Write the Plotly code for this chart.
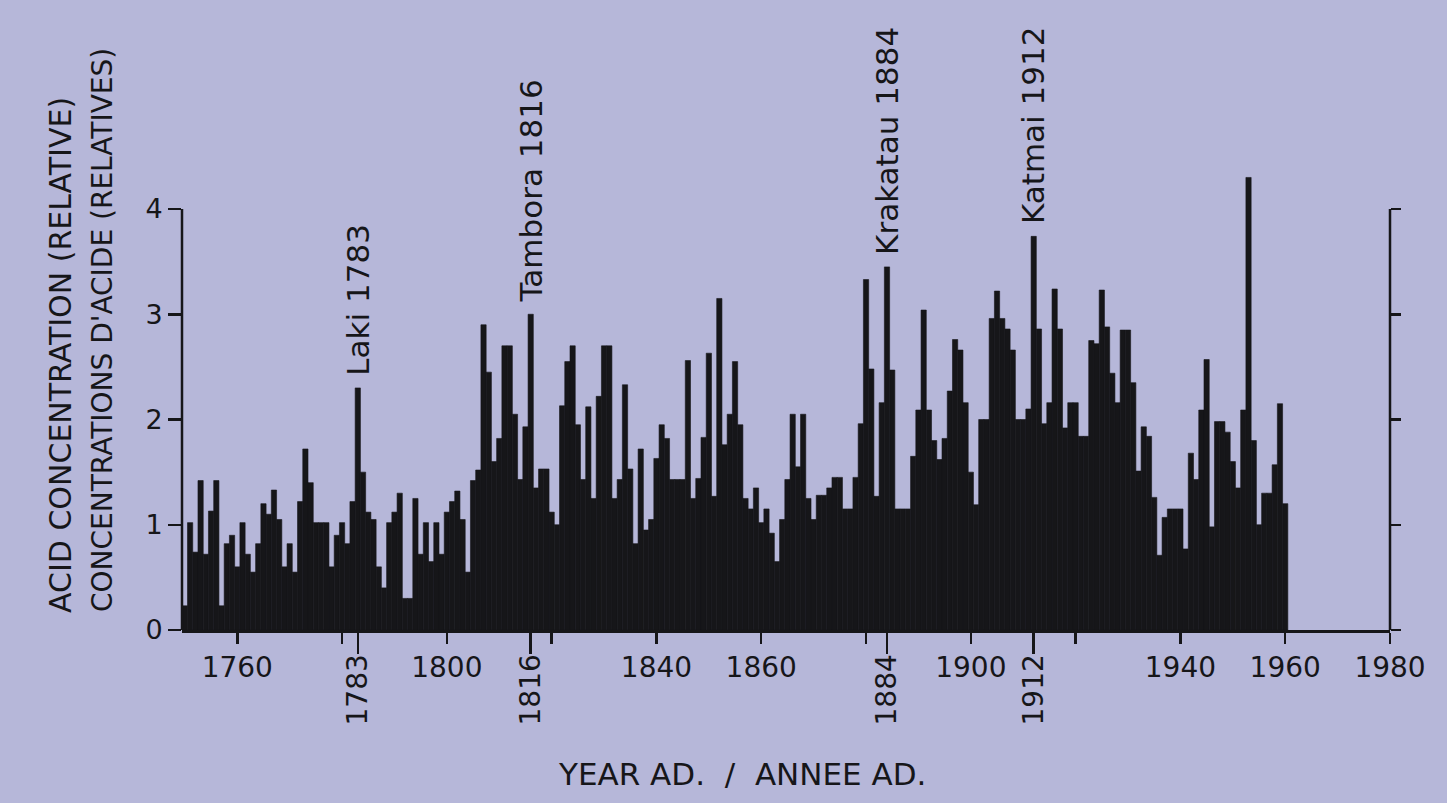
import plotly.graph_objects as go

# ---------------- data ----------------
years = list(range(1750, 1961))
acid = [
    0.23, 1.02, 0.74, 1.42, 0.72, 1.13, 1.42, 0.23, 0.82, 0.90,   # 1750s
    0.60, 1.02, 0.72, 0.55, 0.82, 1.20, 1.10, 1.33, 1.05, 0.60,   # 1760s
    0.82, 0.55, 1.22, 1.72, 1.40, 1.02, 1.02, 1.02, 0.60, 0.90,   # 1770s
    1.02, 0.82, 1.22, 2.30, 1.50, 1.12, 1.05, 0.60, 0.40, 1.02,   # 1780s
    1.12, 1.30, 0.30, 0.30, 1.25, 0.72, 1.02, 0.65, 1.02, 0.72,   # 1790s
    1.12, 1.22, 1.32, 1.05, 0.55, 1.42, 1.52, 2.90, 2.45, 1.60,   # 1800s
    1.82, 2.70, 2.70, 2.05, 1.43, 1.93, 3.00, 1.35, 1.53, 1.53,   # 1810s
    1.12, 1.00, 2.13, 2.55, 2.70, 1.95, 1.43, 2.12, 1.25, 2.22,   # 1820s
    2.70, 2.70, 1.25, 1.43, 2.33, 1.53, 0.82, 1.72, 0.95, 1.05,   # 1830s
    1.63, 1.95, 1.82, 1.43, 1.43, 1.43, 2.56, 1.25, 1.44, 1.83,   # 1840s
    2.63, 1.27, 3.15, 1.76, 2.05, 2.55, 1.95, 1.25, 1.15, 1.35,   # 1850s
    1.02, 1.15, 0.92, 0.65, 1.05, 1.43, 2.05, 1.55, 2.05, 1.25,   # 1860s
    1.05, 1.28, 1.28, 1.35, 1.45, 1.45, 1.15, 1.15, 1.45, 1.96,   # 1870s
    3.33, 2.48, 1.27, 2.16, 3.45, 2.47, 1.15, 1.15, 1.15, 1.65,   # 1880s
    2.09, 3.04, 2.09, 1.80, 1.62, 1.82, 2.27, 2.76, 2.66, 2.16,   # 1890s
    1.50, 1.19, 2.00, 2.00, 2.96, 3.22, 2.96, 2.86, 2.66, 2.00,   # 1900s
    2.00, 2.10, 3.74, 2.86, 1.96, 2.16, 3.24, 2.86, 1.92, 2.16,   # 1910s
    2.16, 1.84, 1.84, 2.75, 2.72, 3.23, 2.88, 2.44, 2.16, 2.85,   # 1920s
    2.85, 2.35, 1.51, 1.93, 1.84, 1.26, 0.71, 1.07, 1.15, 1.15,   # 1930s
    1.15, 0.77, 1.68, 1.43, 2.09, 2.57, 0.98, 1.98, 1.98, 1.88,   # 1940s
    1.60, 1.35, 2.09, 4.30, 1.80, 1.00, 1.30, 1.30, 1.57, 2.15,   # 1950s
    1.20,                                                         # 1960
]

volcano_names = ["Laki 1783", "Tambora 1816", "Krakatau 1884", "Katmai 1912"]
volcano_years = [1783, 1816, 1884, 1912]

x_tick_vals = [1760, 1780, 1800, 1820, 1840, 1860, 1880, 1900, 1920, 1940, 1960, 1980]
x_tick_text = ["1760", "", "1800", "", "1840", "1860", "", "1900", "", "1940", "1960", "1980"]
y_tick_vals = [0, 1, 2, 3, 4]
y_tick_text = ["0", "1", "2", "3", "4"]

title_en = "ACID CONCENTRATION (RELATIVE)"
title_fr = "CONCENTRATIONS D'ACIDE (RELATIVES)"
x_title = "YEAR AD.\u00a0\u00a0/\u00a0\u00a0ANNEE AD."

# ---------------- styling ----------------
BG = "#b6b7d9"
INK = "#161619"
FONT = "DejaVu Sans"
W, H = 1447, 803
L, R, T, B = 182, 57, 40, 173
PW, PH = W - L - R, H - T - B
X_RANGE = [1749.45, 1980]
Y_RANGE = [0, PH / 105.25]


def px_x(px):
    return (px - L) / PW


def px_y(py):
    return (H - B - py) / PH


fig = go.Figure()
fig.add_trace(go.Bar(
    x=years, y=acid, width=1.0,
    marker=dict(color=INK, line=dict(color=INK, width=0.6)),
    hoverinfo="skip", showlegend=False,
))
# invisible traces that switch on the secondary axes
for ax in (dict(xaxis="x2"), dict(xaxis="x3"), dict(yaxis="y2")):
    fig.add_trace(go.Scatter(x=[X_RANGE[0]], y=[0], mode="markers",
                             marker=dict(opacity=0), hoverinfo="skip",
                             showlegend=False, **ax))

annotations = []
for name, yr in zip(volcano_names, volcano_years):
    peak = acid[years.index(yr)]
    annotations.append(dict(
        x=yr, y=peak, xref="x", yref="y", text=name, showarrow=False,
        textangle=-90, xanchor="center", yanchor="bottom", yshift=10,
        font=dict(family=FONT, size=31, color=INK),
    ))

annotations += [
    dict(x=px_x(60), y=px_y(355), xref="paper", yref="paper", text=title_en,
         showarrow=False, textangle=-90, xanchor="center", yanchor="middle",
         font=dict(family=FONT, size=30, color=INK)),
    dict(x=px_x(102), y=px_y(330), xref="paper", yref="paper", text=title_fr,
         showarrow=False, textangle=-90, xanchor="center", yanchor="middle",
         font=dict(family=FONT, size=28, color=INK)),
    dict(x=px_x(742), y=px_y(774), xref="paper", yref="paper", text=x_title,
         showarrow=False, xanchor="center", yanchor="middle",
         font=dict(family=FONT, size=31, color=INK)),
]

shapes = [
    # left and right vertical axis lines, only up to 4
    dict(type="line", xref="paper", yref="y", x0=0, x1=0, y0=0, y1=4,
         line=dict(color=INK, width=2.5)),
    dict(type="line", xref="paper", yref="y", x0=1, x1=1, y0=0, y1=4,
         line=dict(color=INK, width=2.5)),
]

fig.update_layout(
    width=W, height=H,
    margin=dict(l=L, r=R, t=T, b=B, pad=0),
    paper_bgcolor=BG, plot_bgcolor=BG,
    bargap=0, showlegend=False,
    font=dict(family=FONT, color=INK),
    annotations=annotations, shapes=shapes,
    xaxis=dict(
        range=X_RANGE, showgrid=False, zeroline=False,
        showline=True, linecolor=INK, linewidth=2.5,
        ticks="outside", ticklen=11, tickwidth=2.5, tickcolor=INK,
        tickvals=x_tick_vals, ticktext=x_tick_text,
        tickfont=dict(family=FONT, size=28, color=INK),
    ),
    # long ticks of the eruption years
    xaxis2=dict(
        range=X_RANGE, overlaying="x", side="bottom", anchor="y",
        showgrid=False, zeroline=False, showline=False,
        ticks="outside", ticklen=23, tickwidth=2.5, tickcolor=INK,
        tickvals=volcano_years, showticklabels=False,
    ),
    # rotated labels of the eruption years
    xaxis3=dict(
        range=X_RANGE, overlaying="x", side="bottom", anchor="y",
        showgrid=False, zeroline=False, showline=False,
        ticks="outside", ticklen=12, tickwidth=1, tickcolor="rgba(0,0,0,0)",
        tickvals=volcano_years, ticktext=[str(v) for v in volcano_years],
        tickangle=-90, tickfont=dict(family=FONT, size=28, color=INK),
    ),
    yaxis=dict(
        range=Y_RANGE, showgrid=False, zeroline=False, showline=False,
        ticks="outside", ticklen=13, tickwidth=2.5, tickcolor=INK,
        tickvals=y_tick_vals, ticktext=y_tick_text,
        tickfont=dict(family=FONT, size=27, color=INK),
    ),
    yaxis2=dict(
        range=Y_RANGE, overlaying="y", side="right", anchor="x",
        showgrid=False, zeroline=False, showline=False,
        ticks="outside", ticklen=10, tickwidth=2.5, tickcolor=INK,
        tickvals=y_tick_vals, showticklabels=False,
    ),
)

fig.write_html(
    "out.html",
    config={"displayModeBar": False, "staticPlot": True},
    post_script="document.body.style.margin='0px';document.body.style.overflow='hidden';",
)
